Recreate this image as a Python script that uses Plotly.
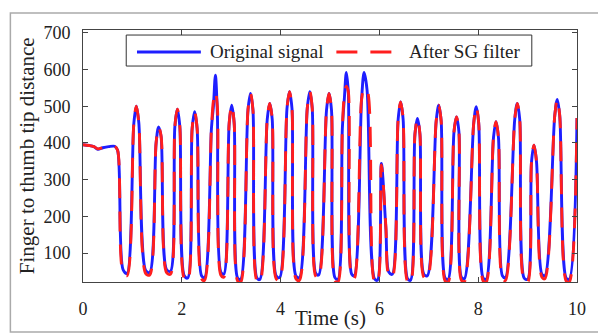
import plotly.graph_objects as go

# Key points (time in s, distance)
t = [0.00, 0.12, 0.22, 0.30, 0.40, 0.52, 0.64, 0.70,
     0.81, 0.89, 1.03, 1.08, 1.13,
     1.27, 1.35, 1.48, 1.53, 1.58,
     1.69, 1.77, 1.86, 1.91, 1.96,
     2.05, 2.12, 2.21, 2.26, 2.31,
     2.40, 2.46, 2.60, 2.64, 2.68, 2.72,
     2.79, 2.85, 2.96, 3.01, 3.06,
     3.13, 3.19, 3.34, 3.39, 3.44,
     3.52, 3.58, 3.73, 3.78, 3.83,
     3.91, 3.98, 4.13, 4.18, 4.23,
     4.31, 4.38, 4.54, 4.59, 4.64,
     4.71, 4.77, 4.93, 4.98, 5.03,
     5.10, 5.16, 5.25, 5.29, 5.33, 5.37,
     5.44, 5.49, 5.64, 5.69, 5.75,
     5.90, 5.96, 6.04, 6.13,
     6.19, 6.26, 6.38, 6.43, 6.48,
     6.57, 6.63, 6.72, 6.77, 6.82,
     6.90, 6.97, 7.15, 7.20, 7.25,
     7.33, 7.39, 7.51, 7.56, 7.61,
     7.66, 7.72, 7.91, 7.96, 8.01,
     8.10, 8.16, 8.31, 8.36, 8.41,
     8.49, 8.55, 8.74, 8.79, 8.84,
     8.93, 9.00, 9.08, 9.13, 9.18,
     9.29, 9.35, 9.55, 9.60, 9.65,
     9.78, 9.84, 10.00]

original = [395, 393, 390, 383, 387, 390, 391, 380,
            55, 44, 455, 500, 455,
            52, 47, 400, 444, 418,
            55, 50, 445, 492, 445,
            38, 32, 440, 485, 440,
            38, 33, 440, 500, 585, 480,
            48, 42, 455, 503, 455,
            32, 28, 490, 535, 490,
            32, 28, 465, 508, 465,
            38, 33, 495, 540, 495,
            38, 33, 495, 540, 495,
            45, 40, 490, 535, 490,
            33, 28, 440, 520, 592, 540,
            42, 38, 520, 592, 545,
            30, 26, 344, 170,
            48, 42, 465, 512, 465,
            30, 26, 425, 467, 425,
            42, 38, 460, 503, 460,
            32, 28, 430, 471, 430,
            34, 30, 455, 499, 455,
            32, 28, 415, 458, 415,
            38, 33, 465, 508, 465,
            32, 28, 350, 394, 350,
            42, 38, 475, 519, 475,
            32, 28, 468]

filtered = [395, 393, 390, 384, 387, 390, 391, 380,
            47, 38, 455, 500, 455,
            44, 40, 400, 444, 420,
            47, 42, 445, 492, 445,
            30, 24, 440, 485, 440,
            30, 25, 440, 515, 540, 500,
            40, 34, 455, 503, 455,
            24, 20, 490, 535, 490,
            24, 20, 465, 508, 465,
            30, 25, 495, 540, 495,
            30, 25, 495, 540, 495,
            37, 32, 490, 535, 490,
            25, 20, 440, 530, 555, 540,
            34, 30, 520, 548, 545,
            22, 18, 340, 175,
            40, 34, 465, 512, 465,
            22, 18, 425, 467, 425,
            34, 30, 460, 503, 460,
            24, 20, 430, 471, 430,
            26, 22, 455, 499, 455,
            24, 20, 415, 458, 415,
            30, 25, 465, 508, 465,
            24, 20, 350, 394, 350,
            34, 30, 475, 519, 475,
            24, 20, 468]

x_ticks = [0, 2, 4, 6, 8, 10]
y_ticks = [100, 200, 300, 400, 500, 600, 700]

FONT = "Liberation Serif"
BLUE = "#1e1eff"
RED = "#ff1e1e"
DASH = "20px,13px"
LW = 2.9

fig = go.Figure()
fig.add_trace(go.Scatter(x=t, y=original, mode="lines", name="Original signal",
                         line=dict(color=BLUE, width=LW, shape="spline", smoothing=0.9)))
fig.add_trace(go.Scatter(x=t, y=filtered, mode="lines", name="After SG filter",
                         line=dict(color=RED, width=LW, dash=DASH, shape="spline", smoothing=0.9)))

axis_common = dict(showgrid=False, zeroline=False, showline=True, mirror="allticks",
                   linecolor="#444", linewidth=1, ticks="inside", ticklen=5,
                   tickcolor="#444", tickfont=dict(family=FONT, size=18, color="#222"))

fig.update_xaxes(range=[0, 10], tickvals=x_ticks, ticklabelstandoff=10, **axis_common)
fig.update_yaxes(range=[21, 708], tickvals=y_ticks, ticklabelstandoff=8, **axis_common)

shapes = [
    # outer figure frame
    dict(type="rect", xref="paper", yref="paper", x0=-0.147, x1=1.05, y0=-0.198, y1=1.0675,
         line=dict(color="#aaaaaa", width=1.5), fillcolor="rgba(0,0,0,0)", layer="below"),
    # legend box
    dict(type="rect", xref="paper", yref="paper", x0=0.0875, x1=0.9085, y0=0.857, y1=0.980,
         line=dict(color="#333", width=1), fillcolor="white", layer="above"),
    dict(type="line", xref="paper", yref="paper", x0=0.1093, x1=0.2386, y0=0.9127, y1=0.9127,
         line=dict(color=BLUE, width=LW), layer="above"),
    dict(type="line", xref="paper", yref="paper", x0=0.5129, x1=0.6243, y0=0.9127, y1=0.9127,
         line=dict(color=RED, width=LW, dash="21px,13px"), layer="above"),
]

annotations = [
    dict(text="Original signal", xref="paper", yref="paper", x=0.2525, y=0.9127,
         xanchor="left", yanchor="middle", showarrow=False,
         font=dict(family=FONT, size=19, color="#222")),
    dict(text="After SG filter", xref="paper", yref="paper", x=0.656, y=0.9127,
         xanchor="left", yanchor="middle", showarrow=False,
         font=dict(family=FONT, size=19, color="#222")),
    dict(text="Time (s)", xref="paper", yref="paper", x=0.5, y=-0.143,
         xanchor="center", yanchor="middle", showarrow=False,
         font=dict(family=FONT, size=21, color="#222")),
    dict(text="Finger to thumb tip distance", xref="paper", yref="paper", x=-0.113, y=0.5,
         xanchor="center", yanchor="middle", showarrow=False, textangle=-90,
         font=dict(family=FONT, size=21, color="#222")),
]

fig.update_layout(
    width=598, height=336,
    margin=dict(l=83, r=12, t=30, b=54),
    paper_bgcolor="white", plot_bgcolor="white",
    showlegend=False,
    shapes=shapes, annotations=annotations,
    font=dict(family=FONT, color="#222"),
)

fig.write_html("out.html")
